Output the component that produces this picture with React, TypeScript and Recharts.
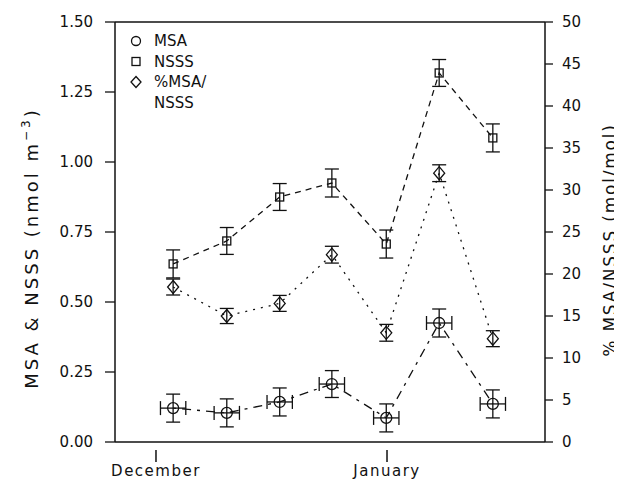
import React from "react";
import {
  ComposedChart,
  Scatter,
  XAxis,
  YAxis,
  ErrorBar,
  ReferenceLine,
  Legend,
} from "recharts";

// sampling days, counted from 1 December
const days = [2.3, 9.5, 16.6, 23.6, 30.9, 38.0, 45.2];
const dayErr = [1.7, 1.7, 1.7, 1.7, 1.7, 1.7, 1.7];

const msa = [0.121, 0.104, 0.143, 0.207, 0.086, 0.425, 0.136];
const msaErr = [0.05, 0.05, 0.05, 0.048, 0.05, 0.05, 0.05];

const nsss = [0.636, 0.718, 0.875, 0.925, 0.707, 1.318, 1.086];
const nsssErr = [0.05, 0.048, 0.048, 0.05, 0.05, 0.048, 0.05];

const ratio = [18.45, 15.0, 16.5, 22.3, 13.0, 32.0, 12.3];
const ratioErr = [0.95, 0.9, 0.95, 1.0, 1.0, 1.0, 0.95];

const monthTicks = [0, 31];
const monthLabels = ["December", "January"];
const leftTicks = [0, 0.25, 0.5, 0.75, 1.0, 1.25, 1.5];
const rightTicks = [0, 5, 10, 15, 20, 25, 30, 35, 40, 45, 50];
const legendNames = [["MSA"], ["NSSS"], ["%MSA/", "NSSS"]];

const ink = "#111";
const font = "'DejaVu Sans', sans-serif";

const msaData = days.map((d, i) => ({ day: d, v: msa[i], err: msaErr[i], xErr: dayErr[i] }));
const nsssData = days.map((d, i) => ({ day: d, v: nsss[i], err: nsssErr[i] }));
const ratioData = days.map((d, i) => ({ day: d, v: ratio[i], err: ratioErr[i] }));

const Circle = (p: any) => (
  <circle cx={p.cx} cy={p.cy} r={5.5} fill="none" stroke={ink} strokeWidth={1.3} />
);
const Square = (p: any) => (
  <rect x={p.cx - 4} y={p.cy - 4} width={8} height={8} fill="none" stroke={ink} strokeWidth={1.3} />
);
const Diamond = (p: any) => (
  <path
    d={`M${p.cx} ${p.cy - 6.5}L${p.cx + 5.5} ${p.cy}L${p.cx} ${p.cy + 6.5}L${p.cx - 5.5} ${p.cy}Z`}
    fill="none"
    stroke={ink}
    strokeWidth={1.3}
  />
);

function MonthTick(props: any) {
  const { x, y, index } = props;
  return (
    <g>
      <line x1={x} x2={x} y1={y + 6} y2={y + 18} stroke={ink} strokeWidth={1.5} />
      <text x={x} y={y + 32} textAnchor="middle" fontFamily={font} fontSize={15} letterSpacing={1.5} fill={ink}>
        {monthLabels[index]}
      </text>
    </g>
  );
}

function LegendBox() {
  const marks = [
    <circle cx={8} cy={0} r={4.5} fill="none" stroke={ink} strokeWidth={1.3} />,
    <rect x={4} y={-4} width={8} height={8} fill="none" stroke={ink} strokeWidth={1.3} />,
    <path d="M8 -5.5L13 0L8 5.5L3 0Z" fill="none" stroke={ink} strokeWidth={1.3} />,
  ];
  return (
    <svg width={130} height={90}>
      {legendNames.map((lines, i) => (
        <g key={i} transform={`translate(0, ${13 + i * 20.5})`}>
          {marks[i]}
          {lines.map((t, j) => (
            <text key={j} x={26} y={5 + j * 20.5} fontFamily={font} fontSize={15} fill={ink}>
              {t}
            </text>
          ))}
        </g>
      ))}
    </svg>
  );
}

export default function App() {
  return (
    <ComposedChart
      width={614}
      height={475}
      margin={{ top: 14, right: 17, bottom: 1, left: 47 }}
    >
      <XAxis
        dataKey="day"
        type="number"
        domain={[-5.5, 52.2]}
        ticks={monthTicks}
        tick={<MonthTick />}
        tickLine={false}
        tickSize={0}
        height={40}
        axisLine={{ stroke: ink, strokeWidth: 1.5 }}
        allowDataOverflow
      />
      <YAxis
        yAxisId="left"
        type="number"
        domain={[0, 1.5]}
        ticks={leftTicks}
        tickFormatter={(v: number) => v.toFixed(2)}
        width={60}
        tickSize={10}
        tickMargin={12}
        tick={{ fontFamily: font, fontSize: 15, fill: ink }}
        tickLine={{ stroke: ink, strokeWidth: 1.3 }}
        axisLine={{ stroke: ink, strokeWidth: 1.5 }}
        label={(p: any) => (
          <text
            x={30}
            y={240}
            transform="rotate(-90 30 240)"
            textAnchor="middle"
            fontFamily={font}
            fontSize={18}
            letterSpacing={3}
            fill={ink}
          >
            MSA &amp; NSSS (nmol m
            <tspan dy={-8} fontSize={12}>−3</tspan>
            <tspan dy={8}>)</tspan>
          </text>
        )}
      />
      <YAxis
        yAxisId="right"
        orientation="right"
        type="number"
        domain={[0, 50]}
        ticks={rightTicks}
        width={60}
        tickSize={8}
        tickMargin={9}
        tick={{ fontFamily: font, fontSize: 15, fill: ink }}
        tickLine={{ stroke: ink, strokeWidth: 1.3 }}
        axisLine={{ stroke: ink, strokeWidth: 1.5 }}
        label={(p: any) => (
          <text
            x={603}
            y={232}
            transform="rotate(-90 603 232)"
            textAnchor="middle"
            dominantBaseline="middle"
            fontFamily={font}
            fontSize={17}
            letterSpacing={1.8}
            fill={ink}
          >
            % MSA/NSSS (mol/mol)
          </text>
        )}
      />
      <ReferenceLine yAxisId="left" y={1.5} stroke={ink} strokeWidth={1.5} />
      <Legend
        layout="vertical"
        align="center"
        verticalAlign="middle"
        wrapperStyle={{ top: 20, left: 120, width: 130 }}
        content={() => <LegendBox />}
      />
      <Scatter
        name="NSSS"
        yAxisId="left"
        data={nsssData}
        dataKey="v"
        shape={<Square />}
        line={{ stroke: ink, strokeWidth: 1.3, strokeDasharray: "6 5" }}
        lineType="joint"
        isAnimationActive={false}
      >
        <ErrorBar dataKey="err" direction="y" width={7} stroke={ink} strokeWidth={1.3} />
      </Scatter>
      <Scatter
        name="%MSA/NSSS"
        yAxisId="right"
        data={ratioData}
        dataKey="v"
        shape={<Diamond />}
        line={{ stroke: ink, strokeWidth: 1.3, strokeDasharray: "2 6" }}
        lineType="joint"
        isAnimationActive={false}
      >
        <ErrorBar dataKey="err" direction="y" width={7} stroke={ink} strokeWidth={1.3} />
      </Scatter>
      <Scatter
        name="MSA"
        yAxisId="left"
        data={msaData}
        dataKey="v"
        shape={<Circle />}
        line={{ stroke: ink, strokeWidth: 1.3, strokeDasharray: "3 6 9 6" }}
        lineType="joint"
        isAnimationActive={false}
      >
        <ErrorBar dataKey="err" direction="y" width={7} stroke={ink} strokeWidth={1.3} />
        <ErrorBar dataKey="xErr" direction="x" width={7} stroke={ink} strokeWidth={1.3} />
      </Scatter>
    </ComposedChart>
  );
}
